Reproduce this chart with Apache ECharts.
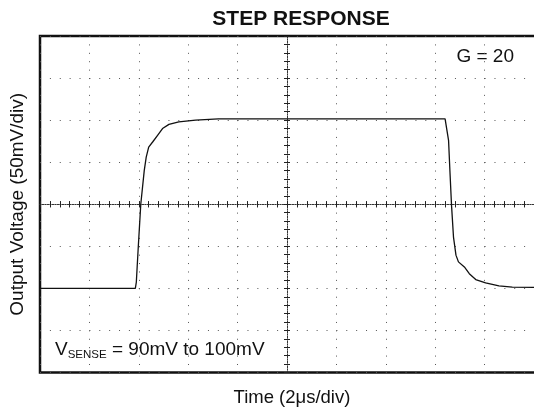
<!DOCTYPE html>
<html>
<head>
<meta charset="utf-8">
<script src="https://cdn.jsdelivr.net/npm/echarts@6/dist/echarts.min.js"></script>
<style>
  html, body { margin: 0; padding: 0; background: #fff; }
  #chart { width: 534px; height: 407px; }
</style>
</head>
<body>
<div id="chart"></div>
<script>
// time in divisions (0 = centre of screen), voltage in divisions
const risePoints = [
    [-5, -2], [-3.07, -2], [-3.05, -1.85], [-3.01, -1.0], [-2.96, 0], [-2.89, 0.8],
    [-2.85, 1.12], [-2.8, 1.36], [-2.72, 1.48], [-2.62, 1.64], [-2.52, 1.8],
    [-2.39, 1.9], [-2.19, 1.96], [-1.85, 2.0], [-1.39, 2.03]
];
const fallPoints = [
    [3.2, 2.03], [3.27, 1.52], [3.3, 0.73], [3.33, -0.02], [3.37, -0.78],
    [3.42, -1.21], [3.47, -1.37], [3.59, -1.49], [3.69, -1.65], [3.82, -1.79],
    [4.02, -1.87], [4.29, -1.94], [4.56, -1.97], [5.2, -1.98]
];
const xRange = [-5, 5.2];
const yRange = [-4, 4];

const titleText = "STEP RESPONSE";
const gainText = "G = 20";
const xName = "Time (2\u03bcs/div)";
const yName = "Output Voltage (50mV/div)";

const chart = echarts.init(document.getElementById("chart"));
const font = "Liberation Sans, Arial, sans-serif";
const ink = "#222";

function xAxisCfg(opts) {
    return Object.assign({
        type: "value",
        min: xRange[0],
        max: xRange[1],
        interval: 1,
        axisLabel: { show: false },
        axisLine: { show: false },
        axisTick: { show: true, inside: true, length: 3, lineStyle: { color: ink } },
        minorTick: { show: true, splitNumber: 5, length: 3, lineStyle: { color: ink } },
        splitLine: { show: false }
    }, opts);
}
function yAxisCfg(opts) {
    return Object.assign({
        type: "value",
        min: yRange[0],
        max: yRange[1],
        interval: 1,
        axisLabel: { show: false },
        axisLine: { show: false },
        axisTick: { show: true, inside: true, length: 3, lineStyle: { color: ink } },
        minorTick: { show: true, splitNumber: 5, length: 3, lineStyle: { color: ink } },
        splitLine: { show: false }
    }, opts);
}
const centreLine = { show: true, onZero: true, onZeroAxisIndex: 0, lineStyle: { color: "#333", width: 1, type: [1, 1.5] } };

chart.setOption({
    animation: false,
    backgroundColor: "#fff",
    grid: {
        left: 40,
        top: 36,
        width: 503.9,
        height: 336.5,
        outerBoundsMode: "none",
        containLabel: false,
        show: true,
        borderColor: "#111",
        borderWidth: 2.5
    },
    xAxis: [
        xAxisCfg({
            position: "bottom",
            splitLine: { show: true, lineStyle: { color: "#555", width: 1, type: [1, 7.41] } },
            name: xName,
            nameLocation: "middle",
            nameGap: 16,
            nameTextStyle: { fontFamily: font, fontSize: 18.5, color: "#111", verticalAlign: "top" }
        }),
        xAxisCfg({ position: "top" }),
        xAxisCfg({ position: "bottom", axisLine: centreLine }),
        xAxisCfg({ position: "bottom", axisLine: centreLine, axisTick: { show: true, inside: false, length: 3, lineStyle: { color: ink } } })
    ],
    yAxis: [
        yAxisCfg({
            position: "left",
            splitLine: { show: true, lineStyle: { color: "#555", width: 1, type: [1, 8.88] } },
            name: yName,
            nameLocation: "middle",
            nameGap: 13,
            nameTextStyle: { fontFamily: font, fontSize: 19, color: "#111" }
        }),
        yAxisCfg({ position: "left", axisLine: centreLine }),
        yAxisCfg({ position: "left", axisLine: centreLine, axisTick: { show: true, inside: false, length: 3, lineStyle: { color: ink } } })
    ],
    graphic: [
        {
            type: "text",
            style: { text: titleText, x: 301, y: 9, textAlign: "center", textVerticalAlign: "top", font: "bold 21px " + font, fill: "#111" }
        },
        {
            type: "text",
            style: { text: gainText, x: 514, y: 57, textAlign: "right", textVerticalAlign: "middle", font: "19px " + font, fill: "#111" }
        },
        {
            type: "text",
            style: {
                x: 55, y: 339, textAlign: "left", textVerticalAlign: "top",
                text: "{m|V}{s|SENSE}{m| = 90mV to 100mV}",
                fill: "#111",
                rich: {
                    m: { fontFamily: font, fontSize: 19, lineHeight: 22, verticalAlign: "middle", fill: "#111" },
                    s: { fontFamily: font, fontSize: 11.5, lineHeight: 14, verticalAlign: "bottom", fill: "#111" }
                }
            }
        }
    ],
    series: [
        {
            type: "line",
            xAxisIndex: 0,
            yAxisIndex: 0,
            data: risePoints.concat(fallPoints),
            showSymbol: false,
            smooth: false,
            lineStyle: { color: "#111", width: 1.3 },
            z: 5
        }
    ]
});
</script>
</body>
</html>
